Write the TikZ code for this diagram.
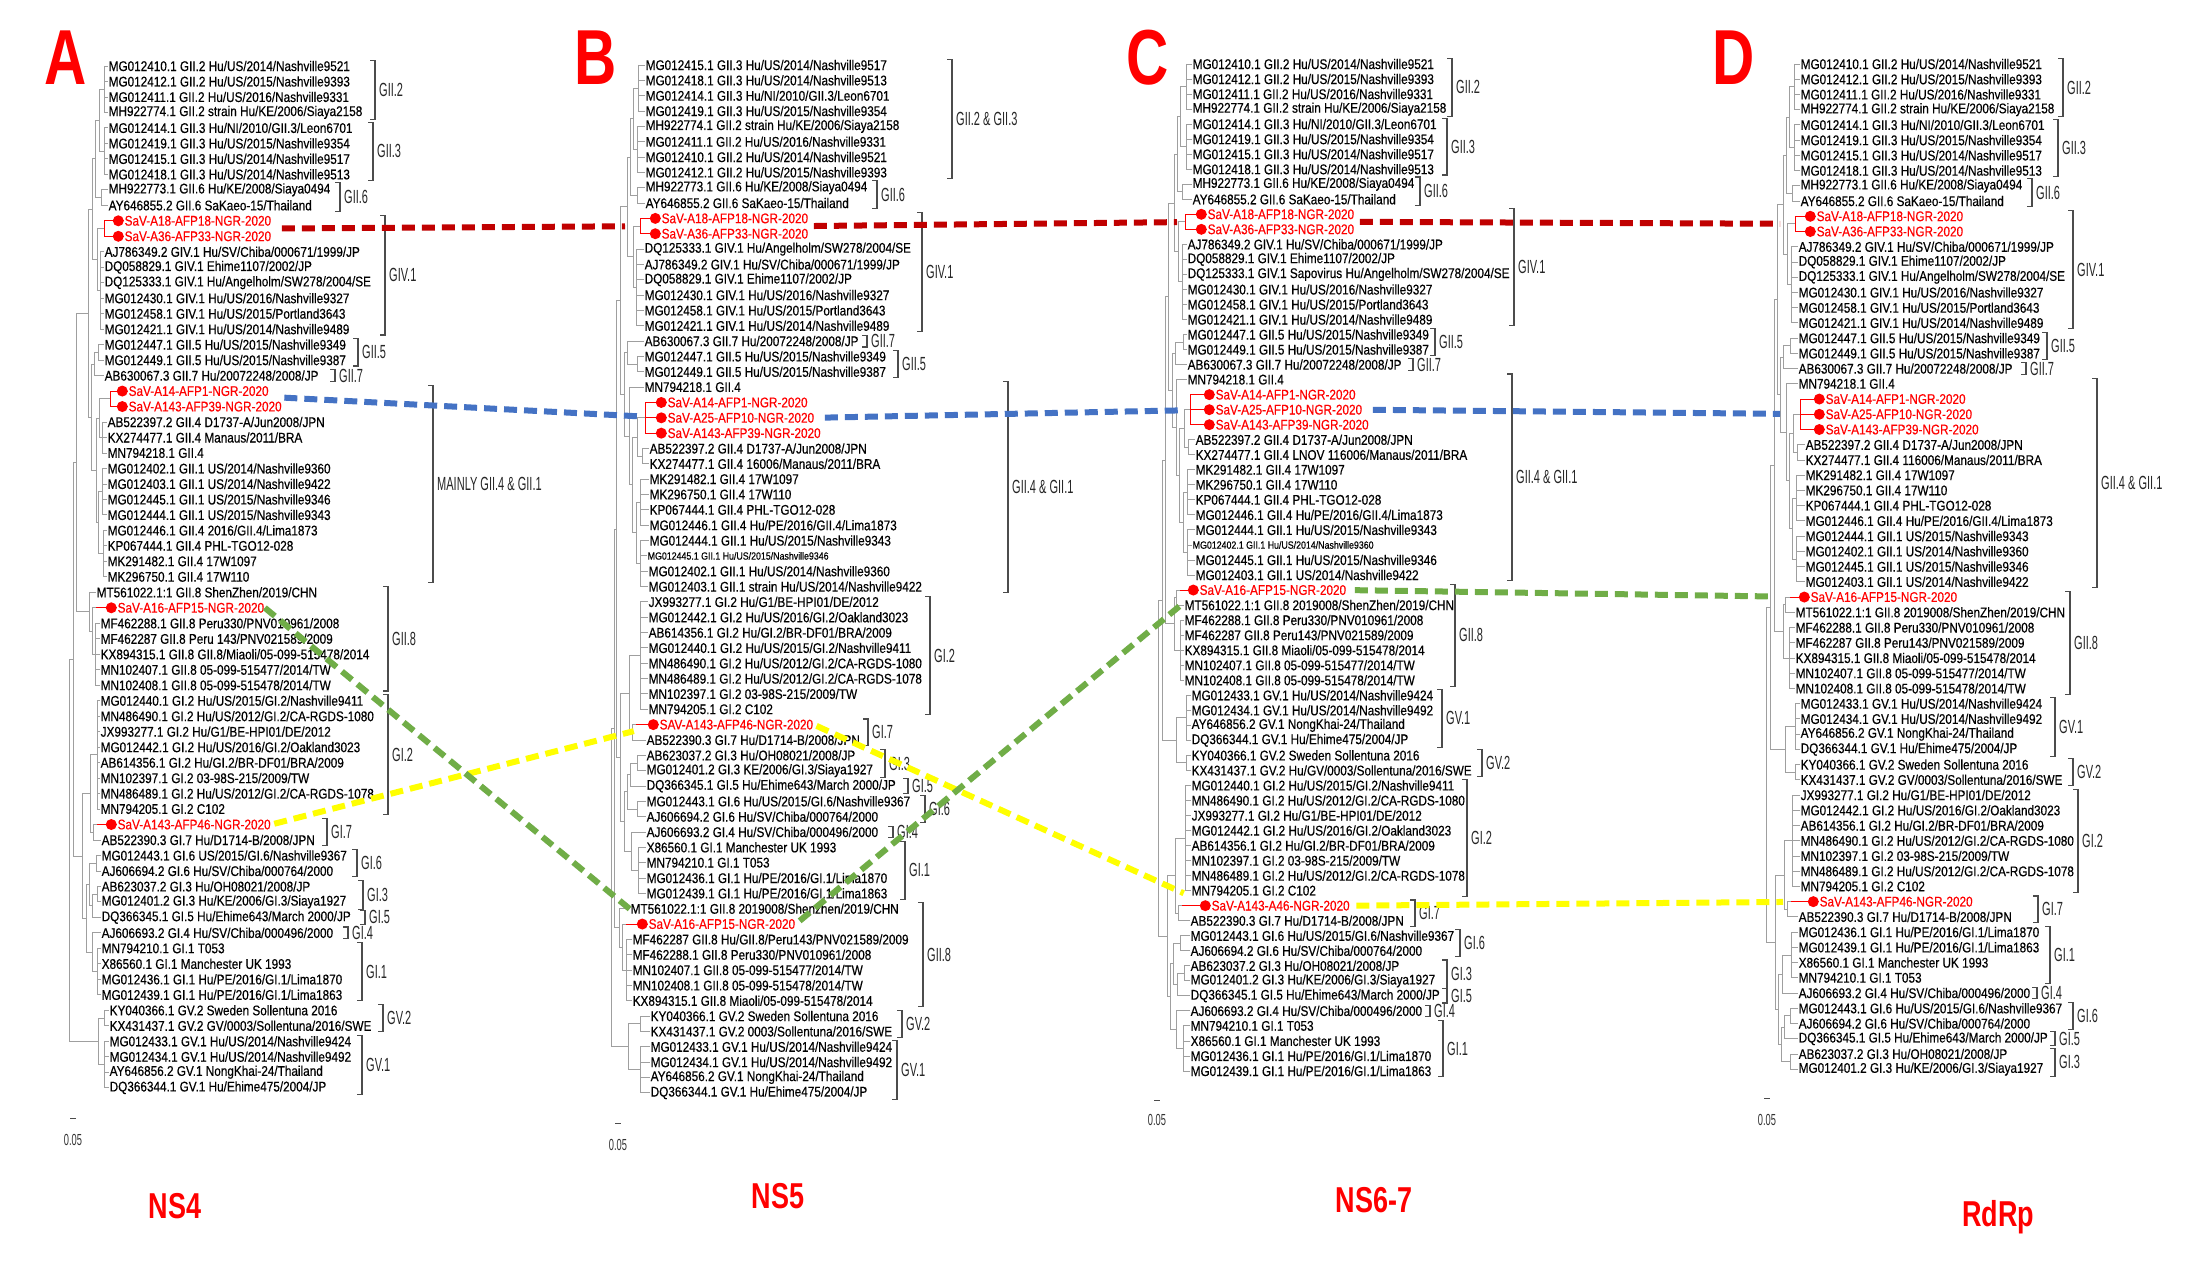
\documentclass[tikz,border=0pt]{standalone}
\usepackage{fontspec}
\setmainfont{Liberation Sans}
\newfontfamily\leaffam[FakeStretch=0.84, FakeBold=0.4]{Liberation Sans}
\newfontfamily\cladefam[FakeStretch=0.58]{Liberation Sans}
\newfontfamily\titlefam[FakeStretch=0.75]{Liberation Sans}
\usetikzlibrary{calc}

\definecolor{savred}{RGB}{255,0,0}
\definecolor{linkred}{RGB}{192,0,0}
\definecolor{linkblue}{RGB}{68,114,196}
\definecolor{linkgreen}{RGB}{112,173,71}
\definecolor{linkyellow}{RGB}{255,255,0}

\tikzset{
  tree/.style={draw=gray!75, line width=0.9pt},
  savtree/.style={draw=savred, line width=0.9pt},
  brk/.style={draw=black!70, line width=1.1pt},
  leaf/.style={anchor=west, inner sep=0.5pt, font=\leaffam\fontsize{14}{14}\selectfont},
  savdot/.style={circle, fill=savred, inner sep=0pt, minimum size=11pt},
  sav/.style={leaf, text=savred, label distance=6pt, label={[savdot]left:{}}},
  cladelab/.style={anchor=west, inner sep=1pt, text=black!85, font=\cladefam\fontsize{19}{19}\selectfont},
  panelletter/.style={text=savred, font=\titlefam\bfseries\fontsize{78}{78}\selectfont},
  genename/.style={text=savred, font=\titlefam\bfseries\fontsize{36}{36}\selectfont},
  scalelab/.style={font=\cladefam\fontsize{16}{16}\selectfont, text=black!80},
  link/.style={line width=6pt, dash pattern=on 13pt off 7pt}
}

% tips of a group of leaves: [style]{panel}{first row}{last row}{x}
\newcommand{\tips}[5][tree]{%
  \draw[#1] (#5,0 |- #2#3.west) -- (#5,0 |- #2#4.west);
  \foreach \k in {#3,...,#4} \draw[#1] (#5,0 |- #2\k.west) -- (#2\k.west);
  \coordinate (#2t#3) at ($(#5,0 |- #2#3.west)!0.5!(#5,0 |- #2#4.west)$);
}
% join two subtrees: {child}{child}{x}{name}
\newcommand{\joinb}[4]{%
  \draw[tree] (#1) -| (#3,0 |- #2) -- (#2);
  \coordinate (#4) at ($(#3,0 |- #1)!0.5!(#3,0 |- #2)$);
}
% genotype bracket: {panel}{first row}{last row}{x}{label}
\newcommand{\cladebar}[5]{%
  \draw[brk] ($(#4,0 |- #1#2.north)+(-5,0)$) -- (#4,0 |- #1#2.north) -- (#4,0 |- #1#3.south) -- ++(-5,0);
  \node[cladelab] (#1c#2) at ($(#4,0 |- #1#2.north)!0.5!(#4,0 |- #1#3.south)+(3,0)$) {#5};
}

\begin{document}
\begin{tikzpicture}[x=1pt, y=-1pt]

    \fill[white] (0,0) rectangle (2198,1276);
    \useasboundingbox (0,0) rectangle (2198,1276);

    % Panel letters and gene names
    \node[panelletter] (la) at (66,58) {A};
    \node[panelletter] (lb) at (596,58) {B};
    \node[panelletter] (lc) at (1148,58) {C};
    \node[panelletter] (ld) at (1734,58) {D};
    \node[genename] (na) at (175,1206) {NS4};
    \node[genename] (nb) at (778,1196) {NS5};
    \node[genename] (nc) at (1374,1200) {NS6-7};
    \node[genename] (nd) at (1998,1217) {RdRp};

    % ---------------- Panel A (NS4) ----------------
    \foreach \txt [count=\i from 1] in {MG012410.1 GII.2 Hu/US/2014/Nashville9521,
      MG012412.1 GII.2 Hu/US/2015/Nashville9393, MG012411.1 GII.2 Hu/US/2016/Nashville9331,
      MH922774.1 GII.2 strain Hu/KE/2006/Siaya2158, MG012414.1 GII.3 Hu/NI/2010/GII.3/Leon6701,
      MG012419.1 GII.3 Hu/US/2015/Nashville9354, MG012415.1 GII.3 Hu/US/2014/Nashville9517,
      MG012418.1 GII.3 Hu/US/2014/Nashville9513, MH922773.1 GII.6 Hu/KE/2008/Siaya0494,
      AY646855.2 GII.6 SaKaeo-15/Thailand}
      \node[leaf] (a\i) at (108,{66+(\i-1)*15.48}) {\txt};
    \foreach \txt [count=\i from 11] in {SaV-A18-AFP18-NGR-2020, SaV-A36-AFP33-NGR-2020}
      \node[sav] (a\i) at (124,{66+(\i-1)*15.48}) {\txt};
    \foreach \txt [count=\i from 13] in {AJ786349.2 GIV.1 Hu/SV/Chiba/000671/1999/JP,
      DQ058829.1 GIV.1 Ehime1107/2002/JP, DQ125333.1 GIV.1 Hu/Angelholm/SW278/2004/SE,
      MG012430.1 GIV.1 Hu/US/2016/Nashville9327, MG012458.1 GIV.1 Hu/US/2015/Portland3643,
      MG012421.1 GIV.1 Hu/US/2014/Nashville9489, MG012447.1 GII.5 Hu/US/2015/Nashville9349,
      MG012449.1 GII.5 Hu/US/2015/Nashville9387, AB630067.3 GII.7 Hu/20072248/2008/JP}
      \node[leaf] (a\i) at (104,{66+(\i-1)*15.48}) {\txt};
    \foreach \txt [count=\i from 22] in {SaV-A14-AFP1-NGR-2020, SaV-A143-AFP39-NGR-2020}
      \node[sav] (a\i) at (128,{66+(\i-1)*15.48}) {\txt};
    \foreach \txt [count=\i from 24] in {AB522397.2 GII.4 D1737-A/Jun2008/JPN,
      KX274477.1 GII.4 Manaus/2011/BRA, MN794218.1 GII.4,
      MG012402.1 GII.1 US/2014/Nashville9360, MG012403.1 GII.1 US/2014/Nashville9422,
      MG012445.1 GII.1 US/2015/Nashville9346, MG012444.1 GII.1 US/2015/Nashville9343,
      MG012446.1 GII.4 2016/GII.4/Lima1873, KP067444.1 GII.4 PHL-TGO12-028,
      MK291482.1 GII.4 17W1097, MK296750.1 GII.4 17W110}
      \node[leaf] (a\i) at (107,{66+(\i-1)*15.48}) {\txt};
    \node[leaf] (a35) at (96,{66+34*15.48}) {MT561022.1:1 GII.8 ShenZhen/2019/CHN};
    \node[sav] (a36) at (117,{66+35*15.48}) {SaV-A16-AFP15-NGR-2020};
    \foreach \txt [count=\i from 37] in {MF462288.1 GII.8 Peru330/PNV010961/2008,
      MF462287 GII.8 Peru 143/PNV021589/2009, KX894315.1 GII.8 GII.8/Miaoli/05-099-515478/2014,
      MN102407.1 GII.8 05-099-515477/2014/TW, MN102408.1 GII.8 05-099-515478/2014/TW,
      MG012440.1 GI.2 Hu/US/2015/GI.2/Nashville9411, MN486490.1 GI.2 Hu/US/2012/GI.2/CA-RGDS-1080,
      JX993277.1 GI.2 Hu/G1/BE-HPI01/DE/2012, MG012442.1 GI.2 Hu/US/2016/GI.2/Oakland3023,
      AB614356.1 GI.2 Hu/GI.2/BR-DF01/BRA/2009, MN102397.1 GI.2 03-98S-215/2009/TW,
      MN486489.1 GI.2 Hu/US/2012/GI.2/CA-RGDS-1078, MN794205.1 GI.2 C102}
      \node[leaf] (a\i) at (100,{66+(\i-1)*15.48}) {\txt};
    \node[sav] (a50) at (117,{66+49*15.48}) {SaV-A143-AFP46-NGR-2020};
    \foreach \txt [count=\i from 51] in {AB522390.3 GI.7 Hu/D1714-B/2008/JPN,
      MG012443.1 GI.6 US/2015/GI.6/Nashville9367, AJ606694.2 GI.6 Hu/SV/Chiba/000764/2000,
      AB623037.2 GI.3 Hu/OH08021/2008/JP, MG012401.2 GI.3 Hu/KE/2006/GI.3/Siaya1927,
      DQ366345.1 GI.5 Hu/Ehime643/March 2000/JP, AJ606693.2 GI.4 Hu/SV/Chiba/000496/2000,
      MN794210.1 GI.1 T053, X86560.1 GI.1 Manchester UK 1993,
      MG012436.1 GI.1 Hu/PE/2016/GI.1/Lima1870, MG012439.1 GI.1 Hu/PE/2016/GI.1/Lima1863}
      \node[leaf] (a\i) at (101,{66+(\i-1)*15.48}) {\txt};
    \foreach \txt [count=\i from 62] in {KY040366.1 GV.2 Sweden Sollentuna 2016,
      KX431437.1 GV.2 GV/0003/Sollentuna/2016/SWE, MG012433.1 GV.1 Hu/US/2014/Nashville9424,
      MG012434.1 GV.1 Hu/US/2014/Nashville9492, AY646856.2 GV.1 NongKhai-24/Thailand,
      DQ366344.1 GV.1 Hu/Ehime475/2004/JP}
      \node[leaf] (a\i) at (109,{66+(\i-1)*15.48}) {\txt};

    % tree A
    \tips{a}{1}{4}{104} \tips{a}{5}{8}{104} \tips{a}{9}{10}{101}
    \tips[savtree]{a}{11}{12}{104} \tips{a}{13}{18}{100} \tips{a}{19}{20}{98}
    \tips{a}{21}{21}{98} \tips[savtree]{a}{22}{23}{110} \tips{a}{24}{26}{102}
    \tips{a}{27}{30}{102} \tips{a}{31}{34}{103} \tips{a}{35}{35}{94}
    \tips[savtree]{a}{36}{36}{96} \tips{a}{37}{41}{95} \tips{a}{42}{49}{97}
    \tips[savtree]{a}{50}{50}{97} \tips{a}{51}{51}{97} \tips{a}{52}{53}{96}
    \tips{a}{54}{55}{97} \tips{a}{56}{56}{94} \tips{a}{57}{57}{95}
    \tips{a}{58}{61}{97} \tips{a}{62}{63}{104} \tips{a}{64}{67}{104}
    \joinb{at1}{at5}{99}{aj1} \joinb{aj1}{at9}{95}{aj2} \joinb{at11}{at13}{97}{aj3}
    \joinb{aj2}{aj3}{92}{aj4} \joinb{at19}{at21}{94}{aj5} \joinb{at22}{at24}{99}{aj6}
    \joinb{at27}{at31}{98}{aj7} \joinb{aj6}{aj7}{96}{aj8} \joinb{aj5}{aj8}{91}{aj9}
    \joinb{aj4}{aj9}{88}{aj10} \joinb{at36}{at37}{92}{aj11} \joinb{at35}{aj11}{89}{aj12}
    \joinb{aj10}{aj12}{76}{aj13} \joinb{at50}{at51}{93}{aj14} \joinb{at42}{aj14}{90}{aj15}
    \joinb{at54}{at56}{92}{aj16} \joinb{at52}{aj16}{89}{aj17} \joinb{at57}{at58}{92}{aj18}
    \joinb{aj17}{aj18}{86}{aj19} \joinb{aj15}{aj19}{82}{aj20} \joinb{aj13}{aj20}{73}{aj21}
    \joinb{at62}{at64}{98}{aj22} \joinb{aj21}{aj22}{69}{aj23}

    % genotypes A
    \cladebar{a}{1}{4}{375}{GII.2} \cladebar{a}{5}{8}{373}{GII.3}
    \cladebar{a}{9}{10}{340}{GII.6} \cladebar{a}{11}{18}{385}{GIV.1}
    \cladebar{a}{19}{20}{358}{GII.5} \cladebar{a}{21}{21}{335}{GII.7}
    \cladebar{a}{22}{34}{433}{MAINLY GII.4 \& GII.1} \cladebar{a}{35}{41}{388}{GII.8}
    \cladebar{a}{42}{49}{388}{GI.2} \cladebar{a}{50}{51}{327}{GI.7}
    \cladebar{a}{52}{53}{357}{GI.6} \cladebar{a}{54}{55}{363}{GI.3}
    \cladebar{a}{56}{56}{365}{GI.5} \cladebar{a}{57}{57}{348}{GI.4}
    \cladebar{a}{58}{61}{362}{GI.1} \cladebar{a}{62}{63}{383}{GV.2}
    \cladebar{a}{64}{67}{362}{GV.1}

    % ---------------- Panel B (NS5) ----------------
    \foreach \txt [count=\i from 1] in {MG012415.1 GII.3 Hu/US/2014/Nashville9517,
      MG012418.1 GII.3 Hu/US/2014/Nashville9513, MG012414.1 GII.3 Hu/NI/2010/GII.3/Leon6701,
      MG012419.1 GII.3 Hu/US/2015/Nashville9354, MH922774.1 GII.2 strain Hu/KE/2006/Siaya2158,
      MG012411.1 GII.2 Hu/US/2016/Nashville9331, MG012410.1 GII.2 Hu/US/2014/Nashville9521,
      MG012412.1 GII.2 Hu/US/2015/Nashville9393, MH922773.1 GII.6 Hu/KE/2008/Siaya0494,
      AY646855.2 GII.6 SaKaeo-15/Thailand}
      \node[leaf] (b\i) at (645,{65+(\i-1)*15.34}) {\txt};
    \foreach \txt [count=\i from 11] in {SaV-A18-AFP18-NGR-2020, SaV-A36-AFP33-NGR-2020}
      \node[sav] (b\i) at (661,{65+(\i-1)*15.34}) {\txt};
    \foreach \txt [count=\i from 13] in {DQ125333.1 GIV.1 Hu/Angelholm/SW278/2004/SE,
      AJ786349.2 GIV.1 Hu/SV/Chiba/000671/1999/JP, DQ058829.1 GIV.1 Ehime1107/2002/JP,
      MG012430.1 GIV.1 Hu/US/2016/Nashville9327, MG012458.1 GIV.1 Hu/US/2015/Portland3643,
      MG012421.1 GIV.1 Hu/US/2014/Nashville9489, AB630067.3 GII.7 Hu/20072248/2008/JP,
      MG012447.1 GII.5 Hu/US/2015/Nashville9349, MG012449.1 GII.5 Hu/US/2015/Nashville9387,
      MN794218.1 GII.4}
      \node[leaf] (b\i) at (644,{65+(\i-1)*15.34}) {\txt};
    \foreach \txt [count=\i from 23] in {SaV-A14-AFP1-NGR-2020, SaV-A25-AFP10-NGR-2020,
      SaV-A143-AFP39-NGR-2020}
      \node[sav] (b\i) at (667,{65+(\i-1)*15.34}) {\txt};
    \foreach \txt [count=\i from 26] in {AB522397.2 GII.4 D1737-A/Jun2008/JPN,
      KX274477.1 GII.4 16006/Manaus/2011/BRA, MK291482.1 GII.4 17W1097,
      MK296750.1 GII.4 17W110, KP067444.1 GII.4 PHL-TGO12-028,
      MG012446.1 GII.4 Hu/PE/2016/GII.4/Lima1873, MG012444.1 GII.1 Hu/US/2015/Nashville9343}
      \node[leaf] (b\i) at (649,{65+(\i-1)*15.34}) {\txt};
    \node[leaf, font=\leaffam\fontsize{10.5}{10.5}\selectfont] (b33) at (647,{65+32*15.34}) {MG012445.1 GII.1 Hu/US/2015/Nashville9346};
    \foreach \txt [count=\i from 34] in {MG012402.1 GII.1 Hu/US/2014/Nashville9360,
      MG012403.1 GII.1 strain Hu/US/2014/Nashville9422, JX993277.1 GI.2 Hu/G1/BE-HPI01/DE/2012,
      MG012442.1 GI.2 Hu/US/2016/GI.2/Oakland3023, AB614356.1 GI.2 Hu/GI.2/BR-DF01/BRA/2009,
      MG012440.1 GI.2 Hu/US/2015/GI.2/Nashville9411, MN486490.1 GI.2 Hu/US/2012/GI.2/CA-RGDS-1080,
      MN486489.1 GI.2 Hu/US/2012/GI.2/CA-RGDS-1078, MN102397.1 GI.2 03-98S-215/2009/TW,
      MN794205.1 GI.2 C102}
      \node[leaf] (b\i) at (648,{65+(\i-1)*15.34}) {\txt};
    \node[sav] (b44) at (659,{65+43*15.34}) {SAV-A143-AFP46-NGR-2020};
    \foreach \txt [count=\i from 45] in {AB522390.3 GI.7 Hu/D1714-B/2008/JPN,
      AB623037.2 GI.3 Hu/OH08021/2008/JP, MG012401.2 GI.3 KE/2006/GI.3/Siaya1927,
      DQ366345.1 GI.5 Hu/Ehime643/March 2000/JP, MG012443.1 GI.6 Hu/US/2015/GI.6/Nashville9367,
      AJ606694.2 GI.6 Hu/SV/Chiba/000764/2000, AJ606693.2 GI.4 Hu/SV/Chiba/000496/2000,
      X86560.1 GI.1 Manchester UK 1993, MN794210.1 GI.1 T053,
      MG012436.1 GI.1 Hu/PE/2016/GI.1/Lima1870, MG012439.1 GI.1 Hu/PE/2016/GI.1/Lima1863}
      \node[leaf] (b\i) at (646,{65+(\i-1)*15.34}) {\txt};
    \node[leaf] (b56) at (630,{65+55*15.34}) {MT561022.1:1 GII.8 2019008/Shenzhen/2019/CHN};
    \node[sav] (b57) at (648,{65+56*15.34}) {SaV-A16-AFP15-NGR-2020};
    \foreach \txt [count=\i from 58] in {MF462287 GII.8 Hu/GII.8/Peru143/PNV021589/2009,
      MF462288.1 GII.8 Peru330/PNV010961/2008, MN102407.1 GII.8 05-099-515477/2014/TW,
      MN102408.1 GII.8 05-099-515478/2014/TW, KX894315.1 GII.8 Miaoli/05-099-515478/2014}
      \node[leaf] (b\i) at (632,{65+(\i-1)*15.34}) {\txt};
    \foreach \txt [count=\i from 63] in {KY040366.1 GV.2 Sweden Sollentuna 2016,
      KX431437.1 GV.2 0003/Sollentuna/2016/SWE, MG012433.1 GV.1 Hu/US/2014/Nashville9424,
      MG012434.1 GV.1 Hu/US/2014/Nashville9492, AY646856.2 GV.1 NongKhai-24/Thailand,
      DQ366344.1 GV.1 Hu/Ehime475/2004/JP}
      \node[leaf] (b\i) at (650,{65+(\i-1)*15.34}) {\txt};

    % tree B
    \tips{b}{1}{4}{638} \tips{b}{5}{8}{637} \tips{b}{9}{10}{637}
    \tips[savtree]{b}{11}{12}{640} \tips{b}{13}{18}{636} \tips{b}{19}{19}{630}
    \tips{b}{20}{21}{637} \tips{b}{22}{22}{634} \tips[savtree]{b}{23}{25}{645}
    \tips{b}{26}{27}{642} \tips{b}{28}{31}{640} \tips{b}{32}{35}{640}
    \tips{b}{36}{43}{640} \tips[savtree]{b}{44}{44}{636} \tips{b}{45}{45}{636}
    \tips{b}{46}{47}{637} \tips{b}{48}{48}{633} \tips{b}{49}{50}{637}
    \tips{b}{51}{51}{634} \tips{b}{52}{55}{638} \tips{b}{56}{56}{624}
    \tips[savtree]{b}{57}{57}{626} \tips{b}{58}{62}{626} \tips{b}{63}{64}{640}
    \tips{b}{65}{68}{640}
    \joinb{bt1}{bt5}{633}{bj1} \joinb{bj1}{bt9}{630}{bj2} \joinb{bt11}{bt13}{633}{bj3}
    \joinb{bj2}{bj3}{627}{bj4} \joinb{bt19}{bt20}{627}{bj5} \joinb{bt23}{bt26}{637}{bj6}
    \joinb{bt28}{bt32}{636}{bj7} \joinb{bj6}{bj7}{632}{bj8} \joinb{bt22}{bj8}{629}{bj9}
    \joinb{bj5}{bj9}{624}{bj10} \joinb{bj4}{bj10}{620}{bj11} \joinb{bt44}{bt45}{632}{bj12}
    \joinb{bt36}{bj12}{629}{bj13} \joinb{bt46}{bt48}{630}{bj14} \joinb{bj14}{bt49}{627}{bj15}
    \joinb{bt51}{bt52}{631}{bj16} \joinb{bj15}{bj16}{624}{bj17} \joinb{bj13}{bj17}{620}{bj18}
    \joinb{bt57}{bt58}{622}{bj19} \joinb{bt56}{bj19}{619}{bj20} \joinb{bj11}{bj18}{616}{bj21}
    \joinb{bj21}{bj20}{614}{bj22} \joinb{bt63}{bt65}{628}{bj23} \joinb{bj22}{bj23}{611}{bj24}

    % genotypes B
    \cladebar{b}{1}{8}{952}{GII.2 \& GII.3} \cladebar{b}{9}{10}{877}{GII.6}
    \cladebar{b}{11}{18}{922}{GIV.1} \cladebar{b}{19}{19}{867}{GII.7}
    \cladebar{b}{20}{21}{898}{GII.5} \cladebar{b}{22}{35}{1008}{GII.4 \& GII.1}
    \cladebar{b}{36}{43}{930}{GI.2} \cladebar{b}{44}{45}{868}{GI.7}
    \cladebar{b}{46}{47}{885}{GI.3} \cladebar{b}{48}{48}{908}{GI.5}
    \cladebar{b}{49}{50}{925}{GI.6} \cladebar{b}{51}{51}{893}{GI.4}
    \cladebar{b}{52}{55}{905}{GI.1} \cladebar{b}{56}{62}{923}{GII.8}
    \cladebar{b}{63}{64}{902}{GV.2} \cladebar{b}{65}{68}{897}{GV.1}

    % ---------------- Panel C (NS6-7) ----------------
    \foreach \txt [count=\i from 1] in {MG012410.1 GII.2 Hu/US/2014/Nashville9521,
      MG012412.1 GII.2 Hu/US/2015/Nashville9393, MG012411.1 GII.2 Hu/US/2016/Nashville9331,
      MH922774.1 GII.2 strain Hu/KE/2006/Siaya2158, MG012414.1 GII.3 Hu/NI/2010/GII.3/Leon6701,
      MG012419.1 GII.3 Hu/US/2015/Nashville9354, MG012415.1 GII.3 Hu/US/2014/Nashville9517,
      MG012418.1 GII.3 Hu/US/2014/Nashville9513, MH922773.1 GII.6 Hu/KE/2008/Siaya0494,
      AY646855.2 GII.6 SaKaeo-15/Thailand}
      \node[leaf] (c\i) at (1192,{64+(\i-1)*15.03}) {\txt};
    \foreach \txt [count=\i from 11] in {SaV-A18-AFP18-NGR-2020, SaV-A36-AFP33-NGR-2020}
      \node[sav] (c\i) at (1207,{64+(\i-1)*15.03}) {\txt};
    \foreach \txt [count=\i from 13] in {AJ786349.2 GIV.1 Hu/SV/Chiba/000671/1999/JP,
      DQ058829.1 GIV.1 Ehime1107/2002/JP, DQ125333.1 GIV.1 Sapovirus Hu/Angelholm/SW278/2004/SE,
      MG012430.1 GIV.1 Hu/US/2016/Nashville9327, MG012458.1 GIV.1 Hu/US/2015/Portland3643,
      MG012421.1 GIV.1 Hu/US/2014/Nashville9489, MG012447.1 GII.5 Hu/US/2015/Nashville9349,
      MG012449.1 GII.5 Hu/US/2015/Nashville9387, AB630067.3 GII.7 Hu/20072248/2008/JP,
      MN794218.1 GII.4}
      \node[leaf] (c\i) at (1187,{64+(\i-1)*15.03}) {\txt};
    \foreach \txt [count=\i from 23] in {SaV-A14-AFP1-NGR-2020, SaV-A25-AFP10-NGR-2020,
      SaV-A143-AFP39-NGR-2020}
      \node[sav] (c\i) at (1215,{64+(\i-1)*15.03}) {\txt};
    \foreach \txt [count=\i from 26] in {AB522397.2 GII.4 D1737-A/Jun2008/JPN,
      KX274477.1 GII.4 LNOV 116006/Manaus/2011/BRA, MK291482.1 GII.4 17W1097,
      MK296750.1 GII.4 17W110, KP067444.1 GII.4 PHL-TGO12-028,
      MG012446.1 GII.4 Hu/PE/2016/GII.4/Lima1873, MG012444.1 GII.1 Hu/US/2015/Nashville9343}
      \node[leaf] (c\i) at (1195,{64+(\i-1)*15.03}) {\txt};
    \node[leaf, font=\leaffam\fontsize{10.5}{10.5}\selectfont] (c33) at (1192,{64+32*15.03}) {MG012402.1 GII.1 Hu/US/2014/Nashville9360};
    \node[leaf] (c34) at (1195,{64+33*15.03}) {MG012445.1 GII.1 Hu/US/2015/Nashville9346};
    \node[leaf] (c35) at (1195,{64+34*15.03}) {MG012403.1 GII.1 US/2014/Nashville9422};
    \node[sav] (c36) at (1199,{64+35*15.03}) {SaV-A16-AFP15-NGR-2020};
    \foreach \txt [count=\i from 37] in {MT561022.1:1 GII.8 2019008/ShenZhen/2019/CHN,
      MF462288.1 GII.8 Peru330/PNV010961/2008, MF462287 GII.8 Peru143/PNV021589/2009,
      KX894315.1 GII.8 Miaoli/05-099-515478/2014, MN102407.1 GII.8 05-099-515477/2014/TW,
      MN102408.1 GII.8 05-099-515478/2014/TW}
      \node[leaf] (c\i) at (1184,{64+(\i-1)*15.03}) {\txt};
    \foreach \txt [count=\i from 43] in {MG012433.1 GV.1 Hu/US/2014/Nashville9424,
      MG012434.1 GV.1 Hu/US/2014/Nashville9492, AY646856.2 GV.1 NongKhai-24/Thailand,
      DQ366344.1 GV.1 Hu/Ehime475/2004/JP, KY040366.1 GV.2 Sweden Sollentuna 2016,
      KX431437.1 GV.2 Hu/GV/0003/Sollentuna/2016/SWE, MG012440.1 GI.2 Hu/US/2015/GI.2/Nashville9411,
      MN486490.1 GI.2 Hu/US/2012/GI.2/CA-RGDS-1080, JX993277.1 GI.2 Hu/G1/BE-HPI01/DE/2012,
      MG012442.1 GI.2 Hu/US/2016/GI.2/Oakland3023, AB614356.1 GI.2 Hu/GI.2/BR-DF01/BRA/2009,
      MN102397.1 GI.2 03-98S-215/2009/TW, MN486489.1 GI.2 Hu/US/2012/GI.2/CA-RGDS-1078,
      MN794205.1 GI.2 C102}
      \node[leaf] (c\i) at (1191,{64+(\i-1)*15.03}) {\txt};
    \node[sav] (c57) at (1211,{64+56*15.03}) {SaV-A143-A46-NGR-2020};
    \foreach \txt [count=\i from 58] in {AB522390.3 GI.7 Hu/D1714-B/2008/JPN,
      MG012443.1 GI.6 Hu/US/2015/GI.6/Nashville9367, AJ606694.2 GI.6 Hu/SV/Chiba/000764/2000,
      AB623037.2 GI.3 Hu/OH08021/2008/JP, MG012401.2 GI.3 Hu/KE/2006/GI.3/Siaya1927,
      DQ366345.1 GI.5 Hu/Ehime643/March 2000/JP, AJ606693.2 GI.4 Hu/SV/Chiba/000496/2000,
      MN794210.1 GI.1 T053, X86560.1 GI.1 Manchester UK 1993,
      MG012436.1 GI.1 Hu/PE/2016/GI.1/Lima1870, MG012439.1 GI.1 Hu/PE/2016/GI.1/Lima1863}
      \node[leaf] (c\i) at (1190,{64+(\i-1)*15.03}) {\txt};

    % tree C
    \tips{c}{1}{4}{1186} \tips{c}{5}{8}{1186} \tips{c}{9}{10}{1182}
    \tips[savtree]{c}{11}{12}{1185} \tips{c}{13}{18}{1182} \tips{c}{19}{20}{1183}
    \tips{c}{21}{21}{1178} \tips{c}{22}{22}{1180} \tips[savtree]{c}{23}{25}{1190}
    \tips{c}{26}{27}{1188} \tips{c}{28}{31}{1187} \tips{c}{32}{35}{1187}
    \tips[savtree]{c}{36}{36}{1180} \tips{c}{37}{37}{1180} \tips{c}{38}{42}{1180}
    \tips{c}{43}{46}{1186} \tips{c}{47}{48}{1186} \tips{c}{49}{56}{1185}
    \tips[savtree]{c}{57}{57}{1182} \tips{c}{58}{58}{1182} \tips{c}{59}{60}{1180}
    \tips{c}{61}{62}{1184} \tips{c}{63}{63}{1180} \tips{c}{64}{64}{1180}
    \tips{c}{65}{68}{1183}
    \joinb{ct1}{ct5}{1180}{cj1} \joinb{cj1}{ct9}{1177}{cj2} \joinb{ct11}{ct13}{1178}{cj3}
    \joinb{cj2}{cj3}{1174}{cj4} \joinb{ct19}{ct21}{1175}{cj5} \joinb{ct23}{ct26}{1184}{cj6}
    \joinb{ct28}{ct32}{1183}{cj7} \joinb{cj6}{cj7}{1179}{cj8} \joinb{ct22}{cj8}{1176}{cj9}
    \joinb{cj5}{cj9}{1172}{cj10} \joinb{cj4}{cj10}{1168}{cj11} \joinb{ct36}{ct37}{1176}{cj12}
    \joinb{cj12}{ct38}{1174}{cj13} \joinb{cj11}{cj13}{1165}{cj14} \joinb{ct43}{ct47}{1176}{cj15}
    \joinb{cj14}{cj15}{1162}{cj16} \joinb{ct57}{ct58}{1178}{cj17} \joinb{ct49}{cj17}{1175}{cj18}
    \joinb{ct61}{ct63}{1177}{cj19} \joinb{ct59}{cj19}{1173}{cj20} \joinb{ct64}{ct65}{1176}{cj21}
    \joinb{cj20}{cj21}{1170}{cj22} \joinb{cj18}{cj22}{1167}{cj23} \joinb{cj16}{cj23}{1158}{cj24}

    % genotypes C
    \cladebar{c}{1}{4}{1452}{GII.2} \cladebar{c}{5}{8}{1447}{GII.3}
    \cladebar{c}{9}{10}{1420}{GII.6} \cladebar{c}{11}{18}{1514}{GIV.1}
    \cladebar{c}{19}{20}{1435}{GII.5} \cladebar{c}{21}{21}{1413}{GII.7}
    \cladebar{c}{22}{35}{1512}{GII.4 \& GII.1} \cladebar{c}{36}{42}{1455}{GII.8}
    \cladebar{c}{43}{46}{1442}{GV.1} \cladebar{c}{47}{48}{1482}{GV.2}
    \cladebar{c}{49}{56}{1467}{GI.2} \cladebar{c}{57}{58}{1415}{GI.7}
    \cladebar{c}{59}{60}{1460}{GI.6} \cladebar{c}{61}{62}{1447}{GI.3}
    \cladebar{c}{63}{63}{1447}{GI.5} \cladebar{c}{64}{64}{1430}{GI.4}
    \cladebar{c}{65}{68}{1443}{GI.1}

    % ---------------- Panel D (RdRp) ----------------
    \foreach \txt [count=\i from 1] in {MG012410.1 GII.2 Hu/US/2014/Nashville9521,
      MG012412.1 GII.2 Hu/US/2015/Nashville9393, MG012411.1 GII.2 Hu/US/2016/Nashville9331,
      MH922774.1 GII.2 strain Hu/KE/2006/Siaya2158, MG012414.1 GII.3 Hu/NI/2010/GII.3/Leon6701,
      MG012419.1 GII.3 Hu/US/2015/Nashville9354, MG012415.1 GII.3 Hu/US/2014/Nashville9517,
      MG012418.1 GII.3 Hu/US/2014/Nashville9513, MH922773.1 GII.6 Hu/KE/2008/Siaya0494,
      AY646855.2 GII.6 SaKaeo-15/Thailand}
      \node[leaf] (d\i) at (1800,{64+(\i-1)*15.23}) {\txt};
    \foreach \txt [count=\i from 11] in {SaV-A18-AFP18-NGR-2020, SaV-A36-AFP33-NGR-2020}
      \node[sav] (d\i) at (1816,{64+(\i-1)*15.23}) {\txt};
    \foreach \txt [count=\i from 13] in {AJ786349.2 GIV.1 Hu/SV/Chiba/000671/1999/JP,
      DQ058829.1 GIV.1 Ehime1107/2002/JP, DQ125333.1 GIV.1 Hu/Angelholm/SW278/2004/SE,
      MG012430.1 GIV.1 Hu/US/2016/Nashville9327, MG012458.1 GIV.1 Hu/US/2015/Portland3643,
      MG012421.1 GIV.1 Hu/US/2014/Nashville9489, MG012447.1 GII.5 Hu/US/2015/Nashville9349,
      MG012449.1 GII.5 Hu/US/2015/Nashville9387, AB630067.3 GII.7 Hu/20072248/2008/JP,
      MN794218.1 GII.4}
      \node[leaf] (d\i) at (1798,{64+(\i-1)*15.23}) {\txt};
    \foreach \txt [count=\i from 23] in {SaV-A14-AFP1-NGR-2020, SaV-A25-AFP10-NGR-2020,
      SaV-A143-AFP39-NGR-2020}
      \node[sav] (d\i) at (1825,{64+(\i-1)*15.23}) {\txt};
    \foreach \txt [count=\i from 26] in {AB522397.2 GII.4 D1737-A/Jun2008/JPN,
      KX274477.1 GII.4 116006/Manaus/2011/BRA, MK291482.1 GII.4 17W1097,
      MK296750.1 GII.4 17W110, KP067444.1 GII.4 PHL-TGO12-028,
      MG012446.1 GII.4 Hu/PE/2016/GII.4/Lima1873, MG012444.1 GII.1 US/2015/Nashville9343,
      MG012402.1 GII.1 US/2014/Nashville9360, MG012445.1 GII.1 US/2015/Nashville9346,
      MG012403.1 GII.1 US/2014/Nashville9422}
      \node[leaf] (d\i) at (1805,{64+(\i-1)*15.23}) {\txt};
    \node[sav] (d36) at (1810,{64+35*15.23}) {SaV-A16-AFP15-NGR-2020};
    \foreach \txt [count=\i from 37] in {MT561022.1:1 GII.8 2019008/ShenZhen/2019/CHN,
      MF462288.1 GII.8 Peru330/PNV010961/2008, MF462287 GII.8 Peru143/PNV021589/2009,
      KX894315.1 GII.8 Miaoli/05-099-515478/2014, MN102407.1 GII.8 05-099-515477/2014/TW,
      MN102408.1 GII.8 05-099-515478/2014/TW}
      \node[leaf] (d\i) at (1795,{64+(\i-1)*15.23}) {\txt};
    \foreach \txt [count=\i from 43] in {MG012433.1 GV.1 Hu/US/2014/Nashville9424,
      MG012434.1 GV.1 Hu/US/2014/Nashville9492, AY646856.2 GV.1 NongKhai-24/Thailand,
      DQ366344.1 GV.1 Hu/Ehime475/2004/JP, KY040366.1 GV.2 Sweden Sollentuna 2016,
      KX431437.1 GV.2 GV/0003/Sollentuna/2016/SWE, JX993277.1 GI.2 Hu/G1/BE-HPI01/DE/2012,
      MG012442.1 GI.2 Hu/US/2016/GI.2/Oakland3023, AB614356.1 GI.2 Hu/GI.2/BR-DF01/BRA/2009,
      MN486490.1 GI.2 Hu/US/2012/GI.2/CA-RGDS-1080, MN102397.1 GI.2 03-98S-215/2009/TW,
      MN486489.1 GI.2 Hu/US/2012/GI.2/CA-RGDS-1078, MN794205.1 GI.2 C102}
      \node[leaf] (d\i) at (1800,{64+(\i-1)*15.23}) {\txt};
    \node[sav] (d56) at (1819,{64+55*15.23}) {SaV-A143-AFP46-NGR-2020};
    \foreach \txt [count=\i from 57] in {AB522390.3 GI.7 Hu/D1714-B/2008/JPN,
      MG012436.1 GI.1 Hu/PE/2016/GI.1/Lima1870, MG012439.1 GI.1 Hu/PE/2016/GI.1/Lima1863,
      X86560.1 GI.1 Manchester UK 1993, MN794210.1 GI.1 T053,
      AJ606693.2 GI.4 Hu/SV/Chiba/000496/2000, MG012443.1 GI.6 Hu/US/2015/GI.6/Nashville9367,
      AJ606694.2 GI.6 Hu/SV/Chiba/000764/2000, DQ366345.1 GI.5 Hu/Ehime643/March 2000/JP,
      AB623037.2 GI.3 Hu/OH08021/2008/JP, MG012401.2 GI.3 Hu/KE/2006/GI.3/Siaya1927}
      \node[leaf] (d\i) at (1798,{64+(\i-1)*15.23}) {\txt};

    % tree D
    \tips{d}{1}{4}{1794} \tips{d}{5}{8}{1794} \tips{d}{9}{10}{1792}
    \tips[savtree]{d}{11}{12}{1795} \tips{d}{13}{18}{1791} \tips{d}{19}{20}{1790}
    \tips{d}{21}{21}{1786} \tips{d}{22}{22}{1790} \tips[savtree]{d}{23}{25}{1800}
    \tips{d}{26}{27}{1797} \tips{d}{28}{31}{1796} \tips{d}{32}{35}{1796}
    \tips[savtree]{d}{36}{36}{1790} \tips{d}{37}{37}{1789} \tips{d}{38}{42}{1789}
    \tips{d}{43}{46}{1795} \tips{d}{47}{48}{1795} \tips{d}{49}{55}{1792}
    \tips[savtree]{d}{56}{56}{1791} \tips{d}{57}{57}{1791} \tips{d}{58}{61}{1791}
    \tips{d}{62}{62}{1786} \tips{d}{63}{64}{1790} \tips{d}{65}{65}{1787}
    \tips{d}{66}{67}{1790}
    \joinb{dt1}{dt5}{1789}{dj1} \joinb{dj1}{dt9}{1786}{dj2} \joinb{dt11}{dt13}{1787}{dj3}
    \joinb{dj2}{dj3}{1783}{dj4} \joinb{dt19}{dt21}{1783}{dj5} \joinb{dt23}{dt26}{1793}{dj6}
    \joinb{dt28}{dt32}{1792}{dj7} \joinb{dj6}{dj7}{1789}{dj8} \joinb{dt22}{dj8}{1786}{dj9}
    \joinb{dj5}{dj9}{1780}{dj10} \joinb{dj4}{dj10}{1777}{dj11} \joinb{dt36}{dt37}{1785}{dj12}
    \joinb{dj12}{dt38}{1783}{dj13} \joinb{dj11}{dj13}{1774}{dj14} \joinb{dt43}{dt47}{1785}{dj15}
    \joinb{dj14}{dj15}{1770}{dj16} \joinb{dt56}{dt57}{1787}{dj17} \joinb{dt49}{dj17}{1784}{dj18}
    \joinb{dt58}{dt62}{1782}{dj19} \joinb{dt63}{dt65}{1784}{dj20} \joinb{dj20}{dt66}{1781}{dj21}
    \joinb{dj19}{dj21}{1778}{dj22} \joinb{dj18}{dj22}{1775}{dj23} \joinb{dj16}{dj23}{1766}{dj24}

    % genotypes D
    \cladebar{d}{1}{4}{2063}{GII.2} \cladebar{d}{5}{8}{2058}{GII.3}
    \cladebar{d}{9}{10}{2032}{GII.6} \cladebar{d}{11}{18}{2073}{GIV.1}
    \cladebar{d}{19}{20}{2047}{GII.5} \cladebar{d}{21}{21}{2026}{GII.7}
    \cladebar{d}{22}{35}{2097}{GII.4 \& GII.1} \cladebar{d}{36}{42}{2070}{GII.8}
    \cladebar{d}{43}{46}{2055}{GV.1} \cladebar{d}{47}{48}{2073}{GV.2}
    \cladebar{d}{49}{55}{2078}{GI.2} \cladebar{d}{56}{57}{2038}{GI.7}
    \cladebar{d}{58}{61}{2050}{GI.1} \cladebar{d}{62}{62}{2037}{GI.4}
    \cladebar{d}{63}{64}{2073}{GI.6} \cladebar{d}{65}{65}{2055}{GI.5}
    \cladebar{d}{66}{67}{2055}{GI.3}

    % Scale bars
    \draw[brk, line width=0.8pt] (70,1118) -- (76,1118);
    \node[scalelab] (sa) at (73,1140) {0.05};
    \draw[brk, line width=0.8pt] (615,1123) -- (621,1123);
    \node[scalelab] (sb) at (618,1145) {0.05};
    \draw[brk, line width=0.8pt] (1154,1100) -- (1160,1100);
    \node[scalelab] (sc) at (1157,1120) {0.05};
    \draw[brk, line width=0.8pt] (1764,1098) -- (1770,1098);
    \node[scalelab] (sd) at (1767,1120) {0.05};

    % Links between the Nigerian strains
    \draw[link, linkred, shorten <=10pt, shorten >=36pt] ($(a11.east)!0.5!(a12.east)$) -- ($(b11.west)!0.5!(b12.west)$);
    \draw[link, linkred, shorten <=5pt, shorten >=30pt] ($(b11.east)!0.5!(b12.east)$) -- ($(c11.west)!0.5!(c12.west)$);
    \draw[link, linkred, shorten <=5pt, shorten >=36pt] ($(c11.east)!0.5!(c12.east)$) -- ($(d11.west)!0.5!(d12.west)$);
    \draw[link, linkblue, shorten <=2pt, shorten >=30pt] ([yshift=9pt]a23.east) -- (b24.west);
    \draw[link, linkblue, shorten <=10pt, shorten >=32pt] (b24.east) -- (c24.west);
    \draw[link, linkblue, shorten <=10pt, shorten >=45pt] (c24.east) -- (d24.west);
    \draw[link, linkyellow, shorten <=3pt, shorten >=26pt] (a50.east) -- (b44.west);
    \draw[link, linkyellow, shorten <=3pt, shorten >=30pt] (b44.east) -- (c57.west);
    \draw[link, linkyellow, shorten <=6pt, shorten >=36pt] (c57.east) -- (d56.west);
    \draw[link, linkgreen, shorten >=20pt] (a36.east) -- (b57.west);
    \draw[link, linkgreen, shorten <=5pt, shorten >=22pt] (b57.east) -- (c36.west);
    \draw[link, linkgreen, shorten <=8pt, shorten >=38pt] (c36.east) -- (d36.west);

\end{tikzpicture}
\end{document}
